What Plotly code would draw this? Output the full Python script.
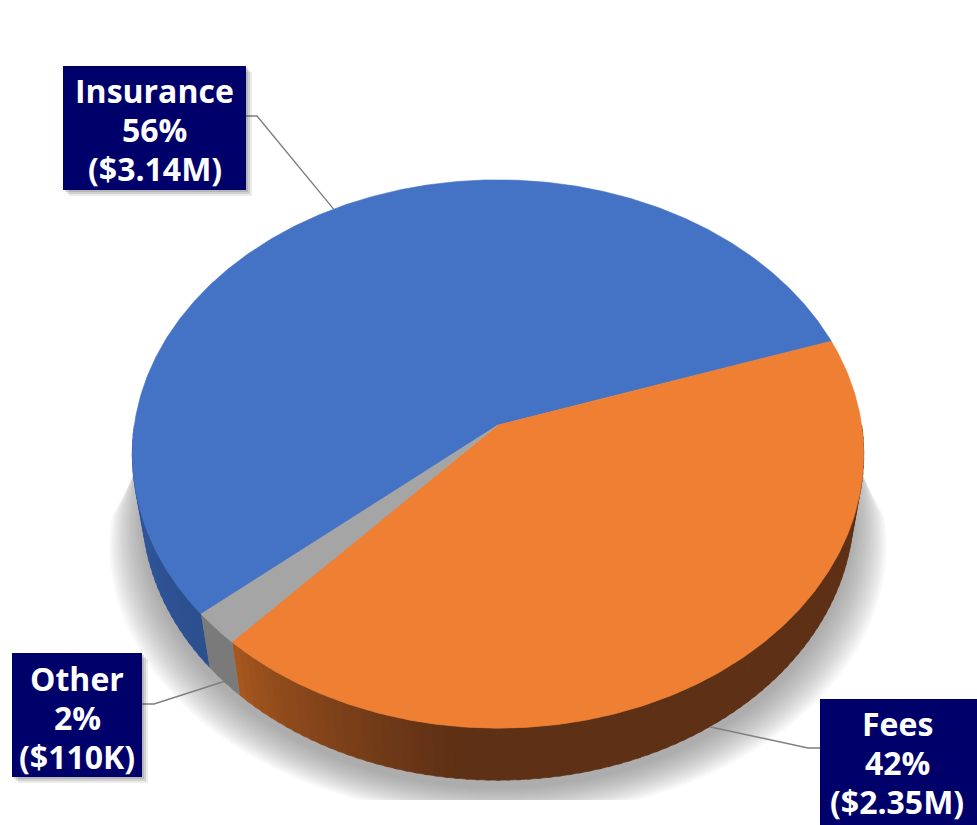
import numpy as np
import plotly.graph_objects as go

# ---------------- data ----------------
categories = ["Insurance", "Fees", "Other"]
values_musd = [3.14, 2.35, 0.11]
value_labels = ["$3.14M", "$2.35M", "$110K"]
top_colors = ["#4472C4", "#EF7F32", "#A5A5A5"]

# ---------------- 3D pie projection parameters ----------------
W, Hpx = 977, 825
ELEV = np.radians(48.2)
C, S = np.cos(ELEV), np.sin(ELEV)
DIST = 6.30
FOC = 2291.0
THICK = 0.232
X0, Y0 = 498.0, 425.0
START = 220.5  # degrees, first slice start, slices run clockwise


def proj(t_deg, z):
    t = np.radians(np.asarray(t_deg, dtype=float))
    x, y = np.cos(t), np.sin(t)
    depth = y * C - z * S + DIST
    X = X0 + FOC * x / depth
    Y = Y0 - FOC * (y * S + z * C) / depth
    return X, Y


def hex2rgb(h):
    h = h.lstrip("#")
    return np.array([int(h[i:i + 2], 16) for i in (0, 2, 4)], dtype=float)


def lerp_col(a, b, f):
    ca, cb = hex2rgb(a), hex2rgb(b)
    c = ca + (cb - ca) * f
    return "rgb(%d,%d,%d)" % tuple(np.round(c).astype(int))


total = sum(values_musd)
fracs = [v / total for v in values_musd]
pcts = [int(round(f * 100)) for f in fracs]

slices = []
hi = START
for f in fracs:
    lo = hi - f * 360
    slices.append((lo, hi))
    hi = lo

fig = go.Figure()

# ---------------- soft shadow ----------------
arc_t = np.linspace(180, 360, 120)
bx, by = proj(arc_t, -THICK)
NL = 16
for k in range(NL):
    d = k * 2.2
    sx = X0 + (bx - X0) * (1 + d / 360.0)
    sy = np.minimum(by + 8 + d * 0.9, 800)
    top_y = 452 + d * 0.6
    px = np.concatenate([[X0 - 362], sx, [X0 + 362]])
    py = np.concatenate([[top_y], sy, [top_y]])
    fig.add_trace(go.Scatter(x=px, y=py, fill="toself", mode="none",
                             fillcolor="rgba(110,110,110,0.05)",
                             hoverinfo="skip", showlegend=False))

# ---------------- side walls ----------------
def wall_color(i, t):
    if i == 0:
        return lerp_col("#2C4F8E", "#3158A0", np.clip((220 - t) / 40, 0, 1))
    if i == 1:
        f = np.clip((t - 228) / 36.0, 0, 1) ** 0.8
        return lerp_col("#A8581F", "#5E3015", f)
    return "#7A7A7A"


for i, (lo, hi) in enumerate(slices):
    k = np.floor(lo / 360)
    a, b = lo - 360 * k, hi - 360 * k
    for fa, fb in ((180, 360), (540, 720)):
        ia, ib = max(a, fa), min(b, fb)
        if ib <= ia:
            continue
        n = max(int((ib - ia) / 1.5), 1)
        edges = np.linspace(ia, ib, n + 1)
        for j in range(n):
            ta = np.linspace(edges[j], min(edges[j + 1] + 0.6, ib), 6)
            tx, ty = proj(ta, 0.0)
            bx2, by2 = proj(ta[::-1], -THICK)
            col = wall_color(i, 0.5 * (edges[j] + edges[j + 1]) % 360)
            fig.add_trace(go.Scatter(
                x=np.concatenate([tx, bx2]), y=np.concatenate([ty, by2]),
                fill="toself", mode="lines", line=dict(color=col, width=0.6),
                fillcolor=col, hoverinfo="skip", showlegend=False))

# ---------------- top faces ----------------
for i, (lo, hi) in enumerate(slices):
    ta = np.linspace(lo, hi, max(int((hi - lo) * 2), 4))
    tx, ty = proj(ta, 0.0)
    fig.add_trace(go.Scatter(
        x=np.concatenate([[X0], tx, [X0]]), y=np.concatenate([[Y0], ty, [Y0]]),
        fill="toself", mode="lines", line=dict(color=top_colors[i], width=0.6),
        fillcolor=top_colors[i], hoverinfo="skip", showlegend=False,
        name=categories[i]))

# ---------------- labels ----------------
boxes = [(63, 66, 246, 190), (820, 699, 977, 835), (12, 653, 142, 777)]
elbows = [((246, 116), (257, 116)), ((820, 748), (808, 748)), ((142, 704), (154, 704))]
text_x = [154.5, 897, 77]
text_y0 = [90, 723, 678]
LINE_PITCH = 39
shapes = []
annotations = []
for i, (lo, hi) in enumerate(slices):
    mid = 0.5 * (lo + hi)
    zmid = 0.0 if np.sin(np.radians(mid)) > 0 else -THICK
    ex, ey = proj(mid, zmid)
    (ax_, ay_), (kx, ky) = elbows[i]
    fig.add_trace(go.Scatter(x=[ax_, kx, float(ex)], y=[ay_, ky, float(ey)], mode="lines",
                             line=dict(color="#7F7F7F", width=1.4),
                             hoverinfo="skip", showlegend=False))
    x0b, y0b, x1b, y1b = boxes[i]
    for s_, op in ((6, 0.10), (4, 0.14), (2, 0.18)):
        shapes.append(dict(type="rect", xref="x", yref="y", x0=x0b + s_, y0=y0b + s_,
                           x1=x1b + s_, y1=y1b + s_, line=dict(width=0),
                           fillcolor="rgba(60,60,60,%.2f)" % op, layer="above"))
    shapes.append(dict(type="rect", xref="x", yref="y", x0=x0b, y0=y0b, x1=x1b, y1=y1b,
                       line=dict(width=0), fillcolor="#00006B", layer="above"))
    lines = [categories[i], "%d%%" % pcts[i], "(%s)" % value_labels[i]]
    for j, txt in enumerate(lines):
        annotations.append(dict(
            x=text_x[i], y=text_y0[i] + j * LINE_PITCH, xref="x", yref="y", showarrow=False,
            text="<b>%s</b>" % txt,
            font=dict(family="Open Sans", size=32, color="white"),
            xanchor="center", yanchor="middle"))

fig.update_layout(
    width=W, height=Hpx, margin=dict(l=0, r=0, t=0, b=0),
    paper_bgcolor="white", plot_bgcolor="white",
    xaxis=dict(range=[0, W], visible=False, fixedrange=True),
    yaxis=dict(range=[Hpx, 0], visible=False, fixedrange=True),
    shapes=shapes, annotations=annotations, showlegend=False,
)
fig.write_html("out.html", config={"displayModeBar": False},
               post_script="document.body.style.margin='0';document.body.style.overflow='hidden';")
